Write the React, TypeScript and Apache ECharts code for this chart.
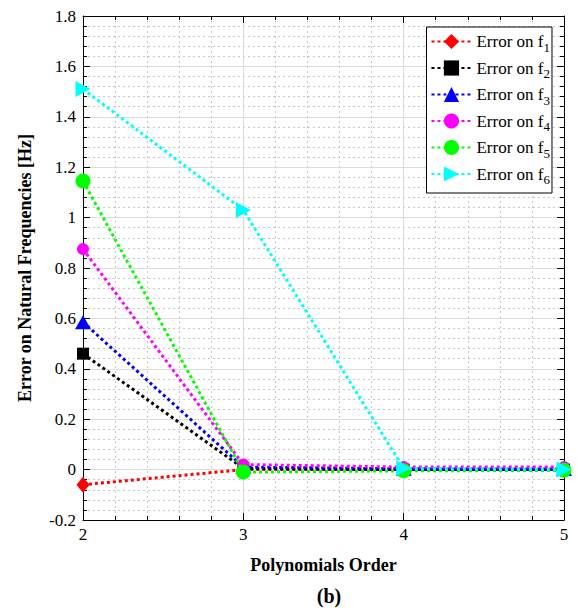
import React, { useEffect, useRef } from "react";
import * as echarts from "echarts";

const orders = [2, 3, 4, 5];
const errF1 = [-0.06, 0.0, 0.0, 0.0];
const errF2 = [0.46, 0.005, 0.0, 0.0];
const errF3 = [0.585, 0.01, 0.003, 0.002];
const errF4 = [0.875, 0.02, 0.01, 0.01];
const errF5 = [1.145, -0.01, -0.005, -0.003];
const errF6 = [1.51, 1.03, 0.005, 0.0];

const seriesNames = ["1", "2", "3", "4", "5", "6"];
const seriesColors = ["#ff0000", "#000000", "#0000ff", "#ff00ff", "#00ff00", "#00ffff"];
const seriesSymbols = ["diamond", "rect", "triangle", "circle", "circle", "triangle"];
const seriesSymbolSizes = [[13, 16], 12, [16, 14], 12, 15, [16, 15]];
const seriesSymbolRotate = [0, 0, 0, 0, 0, -90];
const seriesData = [errF1, errF2, errF3, errF4, errF5, errF6];

const FONT = "'Liberation Serif', 'Times New Roman', serif";

export default function App() {
  const ref = useRef<HTMLDivElement>(null);
  useEffect(() => {
    if (!ref.current) return;
    const chart = echarts.init(ref.current, undefined, { renderer: "svg" });
    const axisCommon = {
      axisLine: { show: true, onZero: false, lineStyle: { color: "#000", width: 1 } },
      axisTick: { show: true, inside: true, length: 7, lineStyle: { color: "#000" } },
      minorTick: { show: true, splitNumber: 5, length: 4, lineStyle: { color: "#000" } },
    };
    const series = seriesData.map((d, i) => ({
      name: "Error on f" + seriesNames[i],
      type: "line",
      xAxisIndex: 0,
      yAxisIndex: 0,
      data: orders.map((o, j) => [o, d[j]]),
      symbol: seriesSymbols[i],
      symbolSize: seriesSymbolSizes[i],
      symbolRotate: seriesSymbolRotate[i],
      showAllSymbol: true,
      lineStyle: { color: seriesColors[i], width: 3, type: [3, 3] },
      itemStyle: { color: seriesColors[i] },
      z: 2 + i,
    }));
    chart.setOption({
      animation: false,
      backgroundColor: "#fff",
      textStyle: { fontFamily: FONT },
      grid: { left: 83, right: 13, top: 16, bottom: 94, containLabel: false },
      title: {
        text: "(b)",
        left: 324,
        textAlign: "center",
        top: 581,
        textStyle: { fontFamily: FONT, fontWeight: "bold", fontSize: 20, color: "#000" },
      },
      legend: {
        orient: "vertical",
        right: 25,
        top: 27,
        padding: [6, 2, 7, 4],
        itemGap: 6,
        itemWidth: 40,
        itemHeight: 19,
        backgroundColor: "#fff",
        borderColor: "#000",
        borderWidth: 1,
        borderRadius: 0,
        data: seriesNames.map((n) => "Error on f" + n),
        formatter: (name: string) => "{a|" + name.slice(0, -1) + "}{s|" + name.slice(-1) + "}",
        textStyle: {
          fontFamily: FONT,
          fontSize: 17,
          color: "#000",
          rich: {
            a: { fontFamily: FONT, fontSize: 17, color: "#000", height: 21 },
            s: { fontFamily: FONT, fontSize: 13, color: "#000", padding: [11, 0, 0, 0], height: 21 },
          },
        },
      },
      xAxis: [
        {
          type: "value",
          min: 2,
          max: 5,
          interval: 1,
          position: "bottom",
          name: "Polynomials Order",
          nameLocation: "middle",
          nameGap: 36,
          nameTextStyle: { fontFamily: FONT, fontWeight: "bold", fontSize: 18, color: "#000" },
          axisLabel: { fontFamily: FONT, fontSize: 17, color: "#000", margin: 6 },
          splitLine: { show: true, lineStyle: { color: "#dcdcdc", width: 1 } },
          minorSplitLine: { show: true, lineStyle: { color: "#c8c8c8", width: 1, type: [2, 3] } },
          ...axisCommon,
        },
        {
          type: "value",
          min: 2,
          max: 5,
          interval: 1,
          position: "top",
          axisLabel: { show: false },
          splitLine: { show: false },
          ...axisCommon,
        },
      ],
      yAxis: [
        {
          type: "value",
          min: -0.2,
          max: 1.8,
          interval: 0.2,
          position: "left",
          name: "Error on Natural Frequencies [Hz]",
          nameLocation: "middle",
          nameGap: 49,
          nameTextStyle: { fontFamily: FONT, fontWeight: "bold", fontSize: 18, color: "#000" },
          axisLabel: { fontFamily: FONT, fontSize: 17, color: "#000", margin: 7 },
          splitLine: { show: true, lineStyle: { color: "#dcdcdc", width: 1 } },
          minorSplitLine: { show: true, lineStyle: { color: "#c8c8c8", width: 1, type: [2, 3] } },
          ...axisCommon,
        },
        {
          type: "value",
          min: -0.2,
          max: 1.8,
          interval: 0.2,
          position: "right",
          axisLabel: { show: false },
          splitLine: { show: false },
          ...axisCommon,
        },
      ],
      series,
    });
    return () => chart.dispose();
  }, []);
  return (
    <div
      ref={ref}
      style={{ position: "absolute", left: 0, top: 0, width: 577, height: 614 }}
    />
  );
}
